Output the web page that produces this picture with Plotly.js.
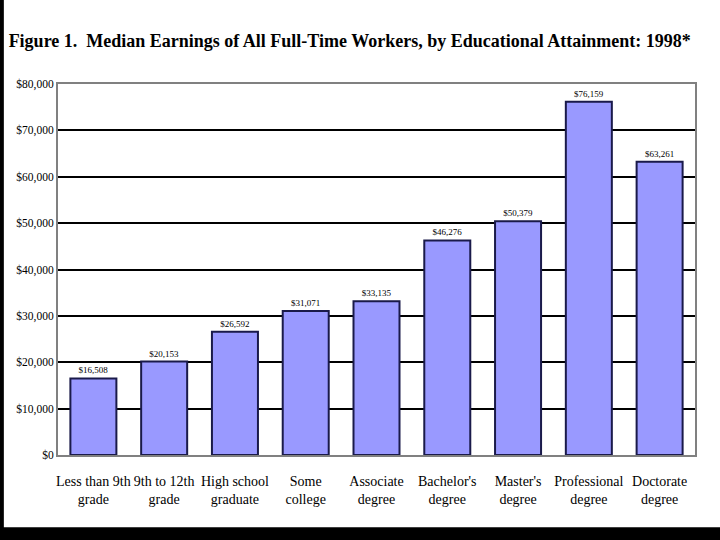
<!DOCTYPE html>
<html>
<head>
<meta charset="utf-8">
<script src="https://cdn.plot.ly/plotly-3.0.1.min.js"></script>
<style>html,body{margin:0;padding:0;background:#fff;}#chart{width:720px;height:540px;}</style>
</head>
<body>
<div id="chart"></div>
<script>
const categories = ["Less than 9th<br>grade", "9th to 12th<br>grade", "High school<br>graduate", "Some<br>college", "Associate<br>degree", "Bachelor's<br>degree", "Master's<br>degree", "Professional<br>degree", "Doctorate<br>degree"];
const earnings = [16508, 20153, 26592, 31071, 33135, 46276, 50379, 76159, 63261];
const earningsLabels = ["$16,508", "$20,153", "$26,592", "$31,071", "$33,135", "$46,276", "$50,379", "$76,159", "$63,261"];
const tickValues = [0, 10000, 20000, 30000, 40000, 50000, 60000, 70000, 80000];
const tickLabels = ["$0", "$10,000", "$20,000", "$30,000", "$40,000", "$50,000", "$60,000", "$70,000", "$80,000"];

const trace = {
  type: 'bar',
  x: categories,
  y: earnings,
  text: earningsLabels,
  textposition: 'outside',
  cliponaxis: false,
  textfont: {family: 'Liberation Serif, serif', size: 9, color: '#000'},
  marker: {color: '#9999ff', line: {color: '#1a1a4a', width: 2}},
  hoverinfo: 'skip'
};

const layout = {
  width: 720, height: 540,
  paper_bgcolor: '#fff', plot_bgcolor: '#fff',
  margin: {l: 58, r: 25, t: 84, b: 85},
  bargap: 0.35,
  showlegend: false,
  title: {
    text: '<b>Figure 1.  Median Earnings of All Full-Time Workers, by Educational Attainment: 1998*</b>',
    font: {family: 'Liberation Serif, serif', size: 18, color: '#000'},
    x: 0.012, xanchor: 'left', y: 0.925, yanchor: 'middle'
  },
  xaxis: {
    tickfont: {family: 'Liberation Serif, serif', size: 14, color: '#000'},
    showline: true, linecolor: '#808080', linewidth: 2, mirror: true,
    ticks: '', showgrid: false, ticklabelstandoff: 12
  },
  yaxis: {
    range: [0, 80000],
    tickvals: tickValues, ticktext: tickLabels,
    tickfont: {family: 'Liberation Serif, serif', size: 11.5, color: '#000'},
    showline: true, linecolor: '#808080', linewidth: 2, mirror: true,
    showgrid: true, gridcolor: '#000', gridwidth: 2,
    zeroline: false, ticks: ''
  },
  shapes: [
    {type: 'rect', xref: 'paper', yref: 'paper', x0: -0.1, x1: -0.085, y0: -0.2, y1: 1.3, fillcolor: '#000', line: {width: 0}, layer: 'below'},
    {type: 'rect', xref: 'paper', yref: 'paper', x0: -0.1, x1: 1.05, y0: -0.229, y1: -0.195, fillcolor: '#000', line: {width: 0}, layer: 'below'}
  ]
};

Plotly.newPlot('chart', [trace], layout, {displayModeBar: false, staticPlot: true});
</script>
</body>
</html>
